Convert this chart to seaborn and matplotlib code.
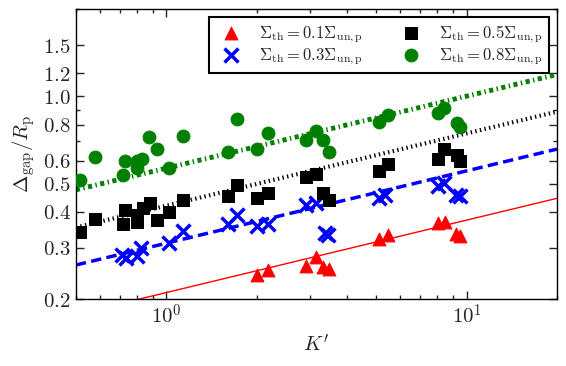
import matplotlib
matplotlib.use("Agg")
import matplotlib.pyplot as plt
import matplotlib.ticker as mticker
import numpy as np
import seaborn as sns

# Messpunkte: K' und Delta_gap / R_p je Schwellwert
red_k = [2.00, 2.18, 2.92, 3.15, 3.33, 3.49, 5.12, 5.46, 8.02, 8.47, 9.22, 9.51]
red_d = [0.242, 0.252, 0.260, 0.280, 0.257, 0.253, 0.322, 0.333, 0.367, 0.370, 0.336, 0.329]

blue_k = [0.714, 0.733, 0.802, 0.827, 1.022, 1.141, 1.603, 1.718, 1.998, 2.175,
          2.924, 3.15, 3.37, 3.45, 5.12, 5.37, 8.02, 8.39, 9.22, 9.51]
blue_d = [0.284, 0.277, 0.282, 0.299, 0.313, 0.342, 0.363, 0.391, 0.356, 0.363,
          0.423, 0.429, 0.339, 0.333, 0.446, 0.458, 0.489, 0.503, 0.458, 0.452]

black_k = [0.516, 0.578, 0.720, 0.729, 0.802, 0.802, 0.839, 0.881, 0.930, 1.022,
           1.141, 1.603, 1.718, 1.998, 2.175, 2.924, 3.162, 3.33, 3.49, 5.12,
           5.46, 8.02, 8.43, 9.26, 9.51]
black_d = [0.340, 0.378, 0.364, 0.406, 0.369, 0.391, 0.412, 0.429, 0.375, 0.398,
           0.438, 0.452, 0.496, 0.446, 0.464, 0.527, 0.541, 0.464, 0.440, 0.552,
           0.586, 0.609, 0.659, 0.630, 0.597]

green_k = [0.515, 0.578, 0.720, 0.729, 0.802, 0.802, 0.833, 0.876, 0.930, 1.022,
           1.141, 1.603, 1.718, 1.998, 2.175, 2.924, 3.16, 3.33, 3.49, 5.12,
           5.46, 8.02, 8.43, 9.26, 9.51]
green_d = [0.515, 0.620, 0.537, 0.601, 0.597, 0.567, 0.609, 0.723, 0.661, 0.567,
           0.729, 0.644, 0.833, 0.661, 0.745, 0.710, 0.759, 0.710, 0.645, 0.817,
           0.862, 0.878, 0.914, 0.811, 0.786]

# Fit-Geraden (Potenzgesetz), Endpunkte bei K' = 0.5 und 20
fit_k = [0.5, 20.0]
red_fit = [0.177, 0.445]
blue_fit = [0.262, 0.658]
black_fit = [0.353, 0.886]
green_fit = [0.476, 1.19]

labels = [
    r"$\Sigma_{\rm th} = 0.1\Sigma_{\rm un,p}$",
    r"$\Sigma_{\rm th} = 0.3\Sigma_{\rm un,p}$",
    r"$\Sigma_{\rm th} = 0.5\Sigma_{\rm un,p}$",
    r"$\Sigma_{\rm th} = 0.8\Sigma_{\rm un,p}$",
]
y_ticks = [0.2, 0.3, 0.4, 0.5, 0.6, 0.8, 1.0, 1.2, 1.5]

sns.set_style("ticks")
plt.rcParams.update({
    "mathtext.fontset": "cm",
    "font.family": ["DejaVu Serif"],
    "lines.scale_dashes": False,
    "xtick.direction": "in", "ytick.direction": "in",
    "xtick.top": True, "ytick.right": True,
    "xtick.major.size": 6, "ytick.major.size": 6,
    "xtick.minor.size": 3, "ytick.minor.size": 3,
    "xtick.minor.visible": True, "ytick.minor.visible": True,
    "axes.edgecolor": "black", "axes.linewidth": 1.0,
})

fig = plt.figure(figsize=(5.66, 3.66), dpi=100)
ax = fig.add_axes([0.134, 0.183, 0.850, 0.792])

ax.set_xscale("log")
ax.set_yscale("log")

sns.lineplot(x=fit_k, y=red_fit, ax=ax, color="red", lw=1.0)
sns.lineplot(x=fit_k, y=blue_fit, ax=ax, color="blue", lw=2.5, linestyle=(0, (7.5, 3.8)))
sns.lineplot(x=fit_k, y=black_fit, ax=ax, color="black", lw=3, linestyle=(0, (1, 2.4)))
sns.lineplot(x=fit_k, y=green_fit, ax=ax, color="green", lw=3.5,
             linestyle=(0, (3, 2.5, 1, 2.5)))

sns.scatterplot(x=red_k, y=red_d, ax=ax, marker="^", color="red", s=85,
                edgecolor="red", label=labels[0], zorder=3)
sns.scatterplot(x=blue_k, y=blue_d, ax=ax, marker="x", color="blue", s=100,
                linewidth=2.5, label=labels[1], zorder=3)
sns.scatterplot(x=black_k, y=black_d, ax=ax, marker="s", color="black", s=80,
                edgecolor="black", label=labels[2], zorder=3)
sns.scatterplot(x=green_k, y=green_d, ax=ax, marker="o", color="green", s=85,
                edgecolor="green", label=labels[3], zorder=3)

ax.set_xlim(0.5, 20)
ax.set_ylim(0.2, 2.0)

ax.xaxis.set_major_locator(mticker.FixedLocator([1, 10]))
ax.xaxis.set_major_formatter(
    mticker.FuncFormatter(lambda v, p: rf"$10^{{{int(round(np.log10(v)))}}}$"))
ax.xaxis.set_minor_locator(mticker.LogLocator(base=10, subs=np.arange(2, 10)))
ax.xaxis.set_minor_formatter(mticker.NullFormatter())

ax.yaxis.set_major_locator(mticker.FixedLocator(y_ticks))
ax.yaxis.set_major_formatter(mticker.FixedFormatter([f"${v:.1f}$" for v in y_ticks]))
ax.yaxis.set_minor_locator(mticker.LogLocator(base=10, subs=np.arange(2, 10)))
ax.yaxis.set_minor_formatter(mticker.NullFormatter())
ax.tick_params(which="both", labelsize=15, width=1)

ax.set_xlabel(r"$K'$", fontsize=15)
ax.set_ylabel(r"$\Delta_{\rm gap}/R_{\rm p}$", fontsize=15)

leg = ax.legend(loc="upper right", ncol=2, fontsize=12, frameon=True, fancybox=False,
                edgecolor="black", framealpha=1, scatterpoints=1,
                handlelength=2.0, handletextpad=0.65, columnspacing=1.9,
                labelspacing=0.1, borderpad=0.35, borderaxespad=0.5)
leg.get_frame().set_linewidth(1.5)

fig.savefig("out.png", dpi=100)
